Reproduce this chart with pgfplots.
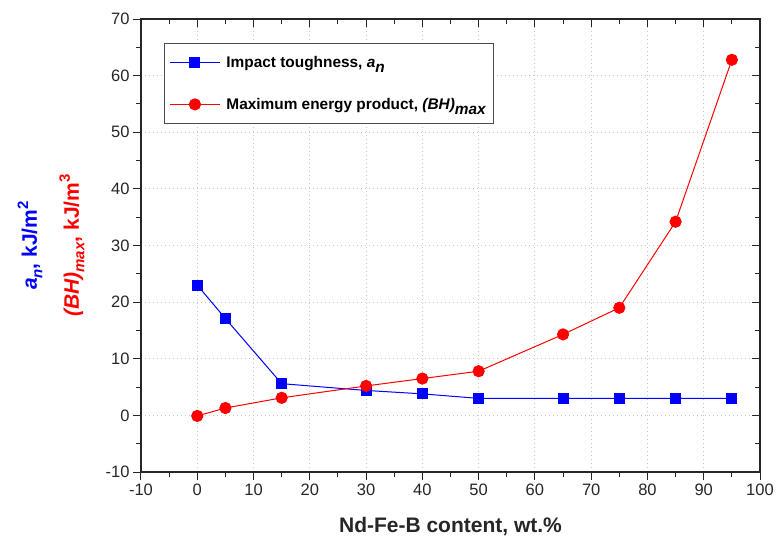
\documentclass[border=0pt]{standalone}
\usepackage{fontspec}
\setmainfont{Liberation Sans}
\usepackage{pgfplots}
\pgfplotsset{compat=1.18}

\definecolor{bl}{RGB}{0,0,255}
\definecolor{rd}{RGB}{255,0,0}

\pgfplotsset{
  base/.style={
    width=619pt, height=453pt, scale only axis,
    at={(0,0)}, anchor=south west,
    xmin=-10, xmax=100, ymin=-10, ymax=70,
    xtick distance=10, ytick distance=10,
    minor x tick num=1, minor y tick num=1,
    major tick length=8pt, minor tick length=5pt,
    axis line style={line width=1.1pt, black!85},
    every tick/.style={black!85, line width=1pt},
  }
}

\begin{document}
\begin{tikzpicture}
\useasboundingbox (-141pt,-70pt) rectangle (635pt,472pt);

\begin{axis}[base, tick pos=left, tick align=outside, clip=false,
    grid=major, grid style={dash pattern=on 1pt off 3pt, black!22, line width=0.9pt},
    ticklabel style={font=\fontsize{16.5}{18}\selectfont, black!85},
    /pgf/number format/assume math mode=true,
    legend style={at={(axis description cs:0.0372,0.947)}, anchor=north west,
      draw=black!70, line width=0.8pt, font=\bfseries\fontsize{15.4}{18}\selectfont,
      row sep=25pt, column sep=4pt, inner xsep=5pt, inner ysep=11pt, cells={anchor=west}},
    legend image code/.code={%
      \draw[mark repeat=2, mark phase=2] plot coordinates {(0pt,0pt) (25pt,0pt) (50pt,0pt)};}]

\addplot[bl, line width=1pt, mark=square*, mark size=5pt, mark options={solid}]
  coordinates {(0,23.0) (5,17.1) (15,5.6) (30,4.4) (40,3.8) (50,3.0) (65,3.0) (75,3.0) (85,3.0) (95,3.0)};
\addlegendentry{Impact toughness, \textit{a}\raisebox{-0.65ex}{\textit{n}}}

\addplot[rd, line width=1pt, mark=*, mark size=5.6pt, mark options={solid}]
  coordinates {(0,-0.1) (5,1.3) (15,3.1) (30,5.2) (40,6.5) (50,7.8) (65,14.3) (75,19.0) (85,34.2) (95,62.8)};
\addlegendentry{Maximum energy product, \textit{(BH)}\raisebox{-0.65ex}{\textit{max}}}

\node[font=\bfseries\fontsize{21}{24}\selectfont, black!85] at (rel axis cs:0.5,0) [yshift=-55pt] {Nd-Fe-B content, wt.\%};
\node[xshift=-111pt, rotate=90, font=\bfseries\fontsize{21}{24}\selectfont, bl] at (rel axis cs:0,0.5)
  {\textit{a}\raisebox{-0.5ex}{\fontsize{15}{16}\selectfont\textit{n}}, kJ/m\raisebox{0.8ex}{\fontsize{15}{16}\selectfont 2}};
\node[xshift=-69pt, rotate=90, font=\bfseries\fontsize{21}{24}\selectfont, rd] at (rel axis cs:0,0.5)
  {\textit{(BH)}\raisebox{-0.5ex}{\fontsize{15}{16}\selectfont\textit{max}}, kJ/m\raisebox{0.8ex}{\fontsize{15}{16}\selectfont 3}};
\end{axis}

\begin{axis}[base, tick pos=right, tick align=inside,
    xticklabels={}, yticklabels={}]
\end{axis}
\end{tikzpicture}
\end{document}
